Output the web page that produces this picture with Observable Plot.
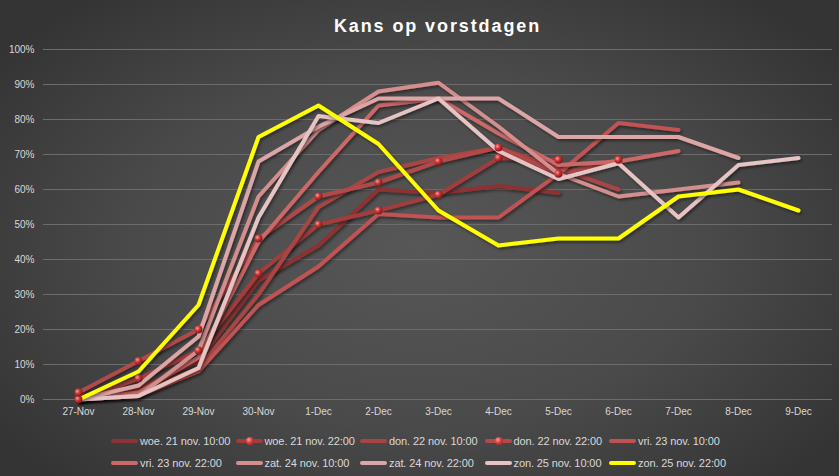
<!DOCTYPE html>
<html>
<head>
<meta charset="utf-8">
<script src="https://cdn.jsdelivr.net/npm/d3@7"></script>
<script src="https://cdn.jsdelivr.net/npm/@observablehq/plot@0.6"></script>
<style>
  html, body { margin: 0; padding: 0; background: #2e2e2e; }
  #wrap {
    position: relative; width: 839px; height: 476px; overflow: hidden;
    background: radial-gradient(ellipse 62% 68% at 50% 52%, #575757 0%, #4a4a4a 55%, #343434 100%);
    font-family: "Liberation Sans", Arial, sans-serif;
  }
  #title {
    position: absolute; top: 16px; left: 43px; width: 789px; text-align: center;
    color: #ffffff; font-weight: bold; font-size: 18px; letter-spacing: 1.9px;
    font-family: "Liberation Sans", Arial, sans-serif;
  }
  #chart { position: absolute; top: 40px; left: 0; }
  .leg { position: absolute; height: 14px; display: flex; align-items: center; color: #d9d9d9; font-size: 11px; white-space: nowrap; letter-spacing: -0.1px; }
  .sym { position: relative; width: 27px; height: 4px; border-radius: 2px; margin-right: 2px; }
  .sym .b { position: absolute; left: 10px; top: -2.5px; width: 8px; height: 8px; border-radius: 50%;
    background: radial-gradient(circle at 35% 35%, #ff9a9a 0%, #d23a3a 45%, #8a1f1f 100%); }
</style>
</head>
<body>
<div id="wrap">
  <div id="title">Kans op vorstdagen</div>
  <div id="chart"></div>
</div>
<script>
// ---- data ----
const dates = ["27-Nov","28-Nov","29-Nov","30-Nov","1-Dec","2-Dec","3-Dec","4-Dec","5-Dec","6-Dec","7-Dec","8-Dec","9-Dec"];
const seriesNames = [
  "woe. 21 nov. 10:00","woe. 21 nov. 22:00","don. 22 nov. 10:00","don. 22 nov. 22:00","vri. 23 nov. 10:00",
  "vri. 23 nov. 22:00","zat. 24 nov. 10:00","zat. 24 nov. 22:00","zon. 25 nov. 10:00","zon. 25 nov. 22:00"
];
const woe21_10 = [1, 3, 11, 34, 44, 60, 59, 61, 59];
const woe21_22 = [0, 6, 14, 36, 50, 54, 58.5, 69, 68.5];
const don22_10 = [0, 2, 9, 30, 55, 65, 69, 72, 66, 60];
const don22_22 = [2, 11, 20, 46, 58, 62, 68, 72, 64.5, 68.5];
const vri23_10 = [0, 1, 8, 27, 38, 53, 52, 52, 64.5, 79, 77];
const vri23_22 = [0, 2, 12, 45, 65, 84, 86, 76, 67, 68, 71];
const zat24_10 = [0, 1, 14, 58, 77, 88, 90.5, 78, 64.5, 58, 60, 62];
const zat24_22 = [0, 4, 18, 68, 78, 86, 86, 86, 75, 75, 75, 69];
const zon25_10 = [0, 1, 9, 52, 81, 79, 86, 71, 63, 67.5, 52, 67, 69];
const zon25_22 = [0, 8, 27, 75, 84, 73, 54, 44, 46, 46, 58, 60, 54];
const seriesValues = [woe21_10, woe21_22, don22_10, don22_22, vri23_10, vri23_22, zat24_10, zat24_22, zon25_10, zon25_22];
const withMarkers = ["woe. 21 nov. 22:00", "don. 22 nov. 22:00"];
const yTicks = [0, 0.1, 0.2, 0.3, 0.4, 0.5, 0.6, 0.7, 0.8, 0.9, 1.0];

// ---- style ----
const colors = ["#8c3333","#a23c3c","#a84444","#b24a4a","#c05252","#cc6868","#d48e8e","#dca6a6","#e6c4c4","#ffff00"];

const rows = [];
seriesNames.forEach((s, k) => {
  seriesValues[k].forEach((v, i) => { if (v != null) rows.push({series: s, date: dates[i], value: v / 100}); });
});

const W = 839, H = 385;
const plot = Plot.plot({
  width: W, height: H,
  marginTop: 9, marginBottom: 26, marginLeft: 43, marginRight: 7,
  style: {background: "transparent", color: "#d9d9d9", fontSize: "10px", fontFamily: "'Liberation Sans', Arial, sans-serif"},
  x: {type: "point", domain: dates, padding: 0.5, label: null, tickSize: 0, tickPadding: 8},
  y: {domain: [0, 1], ticks: yTicks, tickFormat: d3.format(".0%"), label: null, tickSize: 0, tickPadding: 9},
  color: {domain: seriesNames, range: colors},
  marks: [
    Plot.gridY(yTicks, {stroke: "#6c6c6c", strokeOpacity: 1, strokeWidth: 1}),
    ...seriesNames.map(s => Plot.line(rows.filter(d => d.series === s), {
      x: "date", y: "value", stroke: "series", strokeWidth: 4, strokeLinejoin: "round", strokeLinecap: "round"
    })),
    Plot.dot(rows.filter(d => withMarkers.includes(d.series)), {x: "date", y: "value", r: 4, fill: "url(#ball)", stroke: "none"})
  ]
});

// defs: marker gradient + soft shadow
const svg = d3.select(plot);
const defs = svg.insert("defs", ":first-child");
const g = defs.append("radialGradient").attr("id", "ball").attr("cx", "35%").attr("cy", "35%").attr("r", "65%");
g.append("stop").attr("offset", "0%").attr("stop-color", "#ff9c9c");
g.append("stop").attr("offset", "45%").attr("stop-color", "#cf3838");
g.append("stop").attr("offset", "100%").attr("stop-color", "#7c1a1a");
const f = defs.append("filter").attr("id", "shadow").attr("x", "-5%").attr("y", "-5%").attr("width", "110%").attr("height", "115%");
f.append("feDropShadow").attr("dx", 1.5).attr("dy", 2).attr("stdDeviation", 1.5).attr("flood-color", "#000").attr("flood-opacity", 0.45);
svg.selectAll("g[aria-label='line']").attr("filter", "url(#shadow)");
document.getElementById("chart").appendChild(plot);

// legend
const wrap = document.getElementById("wrap");
seriesNames.forEach((s, k) => {
  const col = k % 5, row = Math.floor(k / 5);
  const el = document.createElement("div");
  el.className = "leg";
  el.style.left = (111 + col * 124.5) + "px";
  el.style.top = (434 + row * 22) + "px";
  const sym = document.createElement("div");
  sym.className = "sym";
  sym.style.background = colors[k];
  if (withMarkers.includes(s)) { const b = document.createElement("div"); b.className = "b"; sym.appendChild(b); }
  el.appendChild(sym);
  const t = document.createElement("span");
  t.textContent = s;
  el.appendChild(t);
  wrap.appendChild(el);
});
</script>
</body>
</html>
